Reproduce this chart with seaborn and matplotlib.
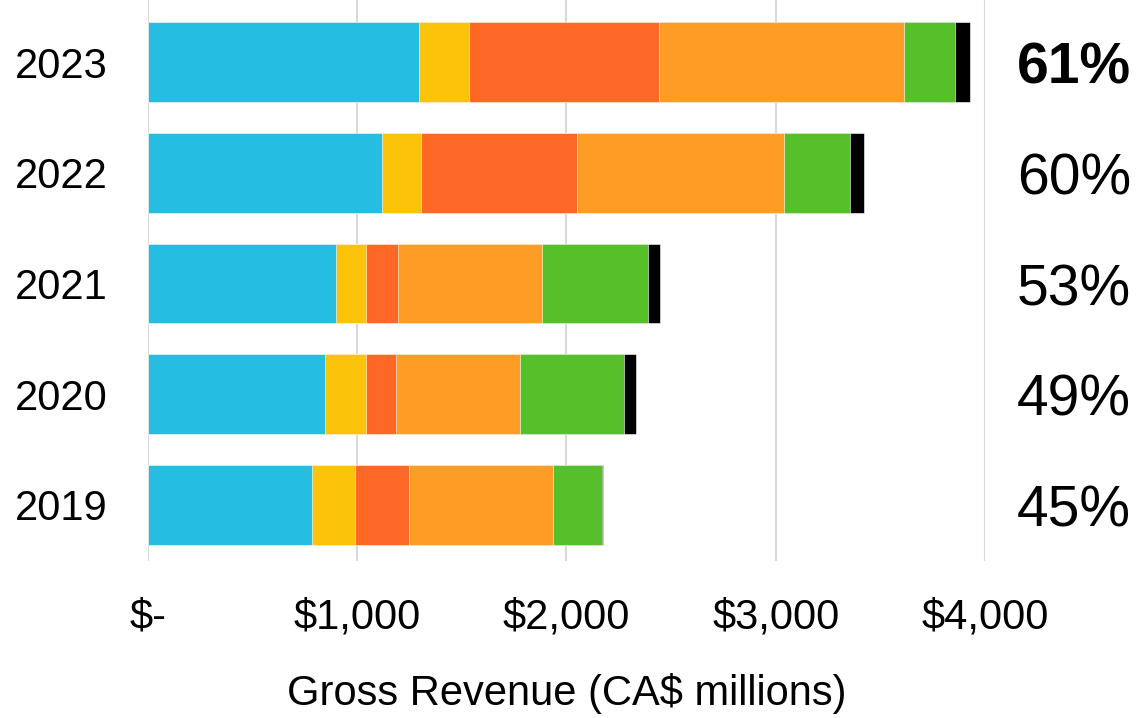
import matplotlib
matplotlib.use("Agg")
import matplotlib.pyplot as plt
import seaborn as sns
import numpy as np
import pandas as pd

years = ["2023", "2022", "2021", "2020", "2019"]
seg1 = [1296, 1118, 899, 848, 785]
seg2 = [238, 186, 144, 195, 203]
seg3 = [906, 746, 152, 143, 261]
seg4 = [1173, 989, 687, 594, 686]
seg5 = [243, 314, 507, 495, 234]
seg6 = [73, 71, 56, 59, 7]
shares = ["61%", "60%", "53%", "49%", "45%"]
colors = ["#26BDE2", "#FCC30B", "#FD6925", "#FD9D24", "#56C02B", "#000000"]
xticks = [0, 1000, 2000, 3000, 4000]
xticklabels = ["$-", "$1,000", "$2,000", "$3,000", "$4,000"]

sns.set_theme(style="white")
plt.rcParams["font.family"] = ["Liberation Sans", "DejaVu Sans"]
plt.rcParams["text.color"] = "black"
plt.rcParams["axes.labelcolor"] = "black"
plt.rcParams["xtick.color"] = "black"
plt.rcParams["ytick.color"] = "black"

segments = [seg1, seg2, seg3, seg4, seg5, seg6]
cum = np.cumsum(np.array(segments), axis=0)

fig = plt.figure(figsize=(11.4, 7.18), dpi=100)
ax = fig.add_axes([148 / 1140, 157 / 718, 837 / 1140, 561 / 718])

for i in range(len(segments) - 1, -1, -1):
    df = pd.DataFrame({"year": years, "value": cum[i]})
    sns.barplot(data=df, x="value", y="year", order=years, orient="h",
                color=colors[i], saturation=1, width=0.722, ax=ax,
                edgecolor="white", linewidth=0.4, zorder=3)

ax.set_xlim(0, 4000)
ax.set_ylim(4.506, -0.56)
ax.set_xticks(xticks)
ax.set_xticklabels(xticklabels, fontsize=30, color="black")
ax.tick_params(axis="y", labelsize=30, length=0, pad=29, labelcolor="black")
ax.tick_params(axis="x", length=0, pad=26, labelcolor="black")
ax.set_ylabel("")
ax.set_xlabel("Gross Revenue (CA$ millions)", fontsize=30, labelpad=26, color="black")
ax.grid(axis="x", color="#d9d9d9", linewidth=1.5, zorder=0)
ax.set_axisbelow(True)
for s in ax.spines.values():
    s.set_visible(False)

for i, (y, s) in enumerate(zip(years, shares)):
    ax.text(4153, i + 0.06, s, fontsize=41, va="center", ha="left", color="black",
            fontweight="bold" if i == 0 else "normal", clip_on=False)

fig.savefig("out.png", dpi=100)
